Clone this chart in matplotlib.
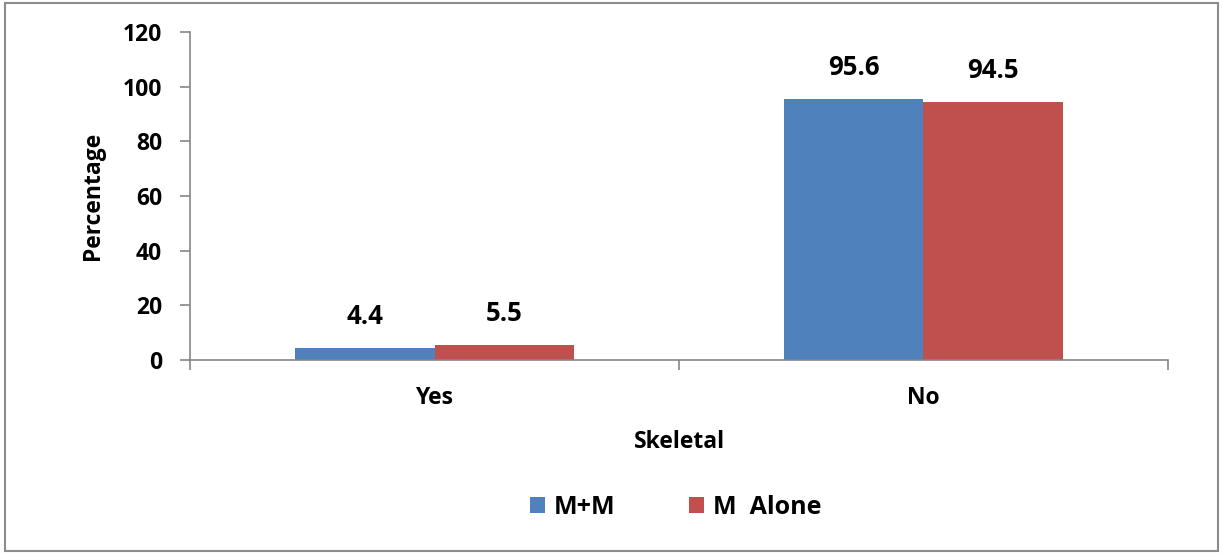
import matplotlib
matplotlib.use("Agg")
import matplotlib.pyplot as plt
from matplotlib.patches import Rectangle
import numpy as np

categories = ["Yes", "No"]
series_names = ["M+M", "M  Alone"]
mm_values = [4.4, 95.6]
alone_values = [5.5, 94.5]
y_ticks = [0, 20, 40, 60, 80, 100, 120]

plt.rcParams["font.family"] = ["Open Sans", "DejaVu Sans"]
plt.rcParams["font.weight"] = "bold"

FS = 16.5
FS_VAL = 18.5
FS_LEG = 18

fig = plt.figure(figsize=(12.22, 5.53), dpi=100)
ax = fig.add_axes([0.1555, 0.349, 0.8003, 0.593])

x = np.arange(len(categories))
w = 0.286
blue = "#4F81BD"
red = "#C0504D"
axis_grey = "#868686"

b1 = ax.bar(x - w / 2, mm_values, width=w, color=blue, label=series_names[0])
b2 = ax.bar(x + w / 2, alone_values, width=w, color=red, label=series_names[1])

for bars, vals in ((b1, mm_values), (b2, alone_values)):
    for bar, v in zip(bars, vals):
        ax.text(bar.get_x() + bar.get_width() / 2, v + 6.5, f"{v}",
                ha="center", va="bottom", fontsize=FS_VAL, fontweight="bold")

ax.set_xlim(-0.5, 1.5)
ax.set_ylim(0, 120)
ax.set_yticks(y_ticks)
ax.set_yticklabels([str(t) for t in y_ticks], fontsize=FS, fontweight="bold")

# category boundaries carry the tick marks, labels sit at the centres
ax.set_xticks([-0.5, 0.5, 1.5])
ax.set_xticklabels([])
ax.set_xticks(x, minor=True)
ax.set_xticklabels(categories, minor=True, fontsize=FS, fontweight="bold")
ax.tick_params(axis="x", which="minor", length=0, pad=19)
ax.tick_params(axis="x", which="major", length=7, width=1.2, color=axis_grey, direction="out")
ax.tick_params(axis="y", length=7, width=1.2, color=axis_grey, direction="out", pad=13)

for side in ("top", "right"):
    ax.spines[side].set_visible(False)
for side in ("left", "bottom"):
    ax.spines[side].set_color(axis_grey)
    ax.spines[side].set_linewidth(1.2)

ax.set_ylabel("Percentage", fontsize=FS, fontweight="bold", labelpad=13)
ax.set_xlabel("Skeletal", fontsize=FS, fontweight="bold", labelpad=14)

leg = fig.legend(handles=[b1, b2], labels=series_names, loc="center",
                 bbox_to_anchor=(0.553, 0.083), ncol=2, frameon=False,
                 prop={"size": FS_LEG, "weight": "bold"}, handlelength=0.6,
                 handleheight=0.6, handletextpad=0.35, columnspacing=2.95)

fig.patches.append(Rectangle((0.004, 0.003), 0.993, 0.992, transform=fig.transFigure,
                             fill=False, edgecolor="#8C8C8C", linewidth=1.5))

fig.savefig("out.png", dpi=100, facecolor="white")
